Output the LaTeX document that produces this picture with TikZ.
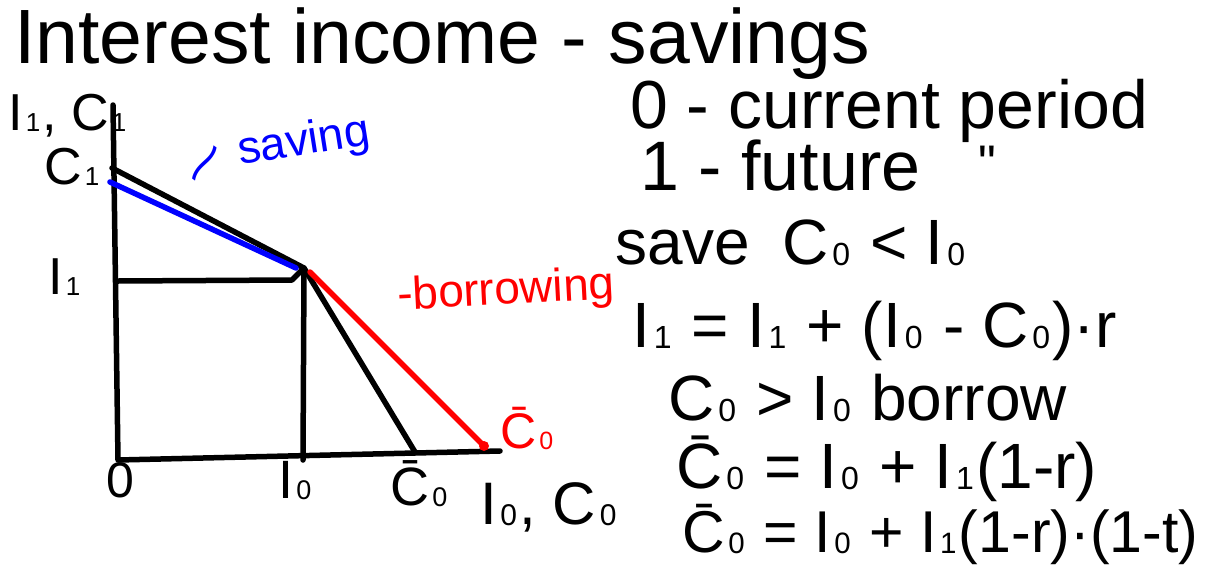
\documentclass[tikz,border=0pt]{standalone}
\usepackage{fontspec}
\setmainfont{Liberation Sans}
\newcommand{\fs}[1]{\fontsize{#1}{#1}\selectfont}
\newcommand{\sbx}[1]{\kern0.06em\relax\raisebox{-0.02em}{\scalebox{0.5}{#1}}\kern0.04em\relax}
\begin{document}
\begin{tikzpicture}[x=1pt,y=-1pt,line cap=round,line join=round,
  ink/.style={line width=5.5pt},
  lbl/.style={anchor=base west,inner sep=0pt}]
\useasboundingbox (0,0) rectangle (1215,573);
% title
\node[lbl,font=\fs{77}] (title) at (14,63) {Interest income - savings};
% graph coordinates
\coordinate (ytop) at (113,105);
\coordinate (O) at (118,460);
\coordinate (xend) at (500,451);
\coordinate (C1) at (112,168);
\coordinate (P) at (304,268);
\coordinate (I1) at (118,281);
\coordinate (I1e) at (292,280);
\coordinate (I0) at (303,460);
\coordinate (C0b) at (415,452);
\coordinate (B1) at (110,182);
\coordinate (B2) at (296,268);
\coordinate (R1) at (310,272);
\coordinate (R2) at (484,446);
\draw[ink] (ytop) -- (O) -- (xend);
\draw[ink] (I1) -- (I1e) -- (P) -- (I0);
\draw[ink] (C1) -- (P) -- (C0b);
\draw[ink,blue] (B1) -- (B2);
\draw[ink,red] (R1) -- (R2);
\fill[red] (R2) circle (5);
% axis labels
\node[lbl,font=\fs{52}] (ylab) at (8,130) {I\sbx{1}, C\sbx{1}};
\node[lbl,font=\fs{52}] (c1lab) at (44,184) {C\sbx{1}};
\node[lbl,font=\fs{52}] (i1lab) at (48,294) {I\sbx{1}};
\node[lbl,font=\fs{50}] (zero) at (106,497) {0};
\node[lbl,font=\fs{54}] (i0lab) at (278,498) {I\sbx{0}};
\node[lbl,font=\fs{54}] (c0blab) at (390,505) {\=C\sbx{0}};
\node[lbl,font=\fs{60}] (xlab) at (480,524) {I\sbx{0}, C\sbx{0}};
% coloured labels
\node[lbl,font=\fs{46},red,rotate=3] (borr) at (398,310) {-borrowing};
\node[lbl,font=\fs{50},red] (c0red) at (500,448) {\=C\sbx{0}};
\node[font=\fs{40},blue,rotate=55,inner sep=0pt] (tilde) at (211,167) {\scalebox{2.0}[1.3]{\textasciitilde}};
\node[lbl,font=\fs{46},blue,rotate=9] (sav) at (240,165) {saving};
% notes
\node[lbl,font=\fs{68}] (n1) at (630,128) {0 - current period};
\node[lbl,font=\fs{70}] (n2) at (640,190) {1 - future};
\node[lbl,font=\fs{50}] (ditto) at (978,180) {\textquotedbl};
\node[lbl,font=\fs{64}] (n3) at (615,264) {save\enspace C\sbx{0} < I\sbx{0}};
\node[lbl,font=\fs{64}] (n4) at (632,347) {I\sbx{1} = I\sbx{1} + (I\sbx{0} - C\sbx{0})·r};
\node[lbl,font=\fs{64}] (n5) at (668,420) {C\sbx{0} > I\sbx{0} borrow};
\node[lbl,font=\fs{64}] (n6) at (676,488) {\=C\sbx{0} = I\sbx{0} + I\sbx{1}(1-r)};
\node[lbl,font=\fs{59}] (n7) at (682,552) {\=C\sbx{0} = I\sbx{0} + I\sbx{1}(1-r)·(1-t)};
\end{tikzpicture}
\end{document}
